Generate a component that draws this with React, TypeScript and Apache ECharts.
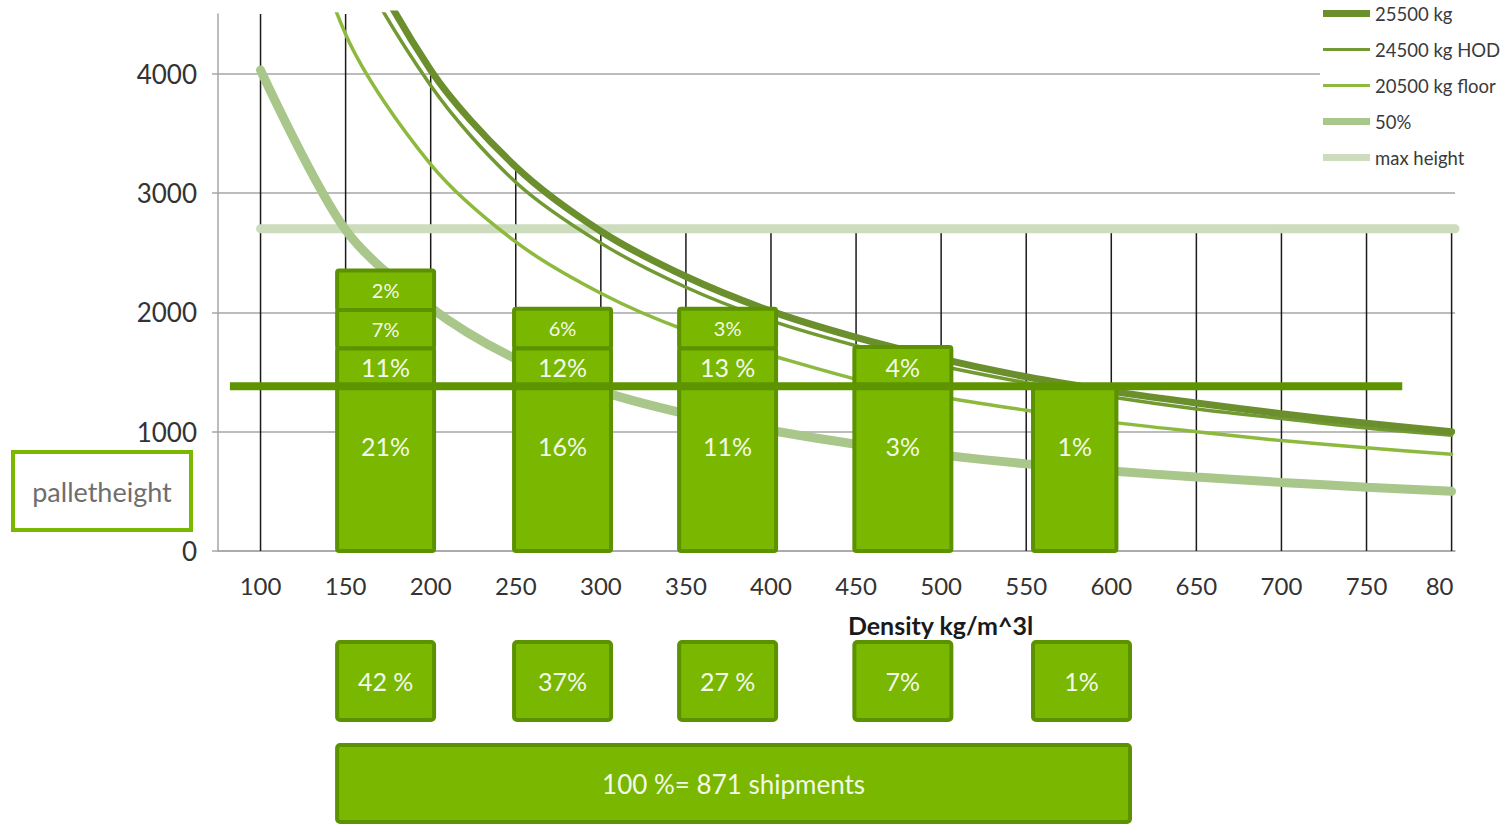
import React, { useEffect, useRef } from "react";
import * as echarts from "echarts";

// ---- data ----
const densityTicks = [100, 150, 200, 250, 300, 350, 400, 450, 500, 550, 600, 650, 700, 750, 800];
const tickLabels = ["100", "150", "200", "250", "300", "350", "400", "450", "500", "550", "600", "650", "700", "750", "80"];
const yTicks = [0, 1000, 2000, 3000, 4000];

const curveX = [100, 150, 200, 250, 300, 350, 400, 450, 500, 550, 600, 650, 700, 750, 800];
const kg25500 = [8050, 5370, 4030, 3220, 2680, 2300, 2010, 1790, 1610, 1460, 1340, 1240, 1150, 1070, 1000];
const kg24500HOD = [7730, 5160, 3900, 3090, 2580, 2210, 1930, 1720, 1550, 1410, 1290, 1190, 1110, 1030, 970];
const kg20500floor = [6470, 4330, 3240, 2590, 2160, 1850, 1640, 1440, 1290, 1180, 1080, 1000, 925, 865, 810];
const half50 = [4030, 2690, 2040, 1610, 1340, 1150, 1010, 895, 805, 730, 670, 620, 575, 535, 500];

const maxHeightX = [100, 802];
const maxHeightValue = 2700;
const palletLineX = [82, 771];
const palletLineValue = 1380;

// vertical guide lines: density and the height where each line ends
const vlineX = densityTicks;
const vlineTop = [4500, 4500, 4030, 3220, 2700, 2700, 2700, 2700, 2700, 2700, 2700, 2700, 2700, 2700, 2700];

// density bins (bar extents on the density axis)
const binLeft = [145, 249, 346, 449, 554];
const binRight = [202, 306, 403, 506, 603];
const lowerRight = [202, 306, 403, 506, 611];
// cumulative tops of the stacked segments (pallet height)
const stackTops = [
  [1380, 1700, 2020, 2350],
  [1380, 1700, 2030],
  [1380, 1700, 2030],
  [1380, 1710],
  [1380],
];
const stackLabels = [
  ["21%", "11%", "7%", "2%"],
  ["16%", "12%", "6%"],
  ["11%", "13 %", "3%"],
  ["3%", "4%"],
  ["1%"],
];
const binShares = ["42 %", "37%", "27 %", "7%", "1%"];
const totalRange = [145, 611];
const totalLabel = "100 %= 871 shipments";

const FONT = "Lato, 'Open Sans', sans-serif";
const BAR_FILL = "#79b700";
const BAR_STROKE = "#5c9100";
const BAR_TEXT = "#f3f9e8";

export default function App() {
  const ref = useRef<HTMLDivElement>(null);

  useEffect(() => {
    if (!ref.current) return;
    const chart = echarts.init(ref.current, undefined, { renderer: "svg" });

    const segItems: any[] = [];
    const segText: string[] = [];
    stackTops.forEach((tops, b) => {
      tops.forEach((top, lvl) => {
        const bottom = lvl === 0 ? 0 : tops[lvl - 1];
        segItems.push([binLeft[b], binRight[b], bottom, top, lvl]);
        segText.push(stackLabels[b][lvl]);
      });
    });

    const curve = (ys: number[]) => curveX.map((x, i) => [x, ys[i]]);

    const lineSeries = (name: string, ys: number[], color: string, width: number) => ({
      name,
      type: "line",
      data: curve(ys),
      symbol: "none",
      smooth: 0.3,
      color,
      itemStyle: { color },
      lineStyle: { color, width, cap: "round" },
      z: 3,
      xAxisIndex: 0,
      yAxisIndex: 0,
    });

    const boxText = (text: string, x: number, y: number, size: number) => ({
      type: "text",
      x,
      y,
      style: {
        text,
        fill: BAR_TEXT,
        fontFamily: FONT,
        fontSize: size,
        align: "center",
        verticalAlign: "middle",
      },
    });

    const option: any = {
      animation: false,
      textStyle: { fontFamily: FONT },
      legend: {
        orient: "vertical",
        left: 1320,
        top: 4,
        padding: [0, 4, 0, 3],
        itemWidth: 47,
        itemHeight: 14,
        itemGap: 17,
        selectedMode: false,
        backgroundColor: "#ffffff",
        textStyle: { fontFamily: FONT, fontSize: 18.5, color: "#3a3a3a" },
        data: [
          { name: "25500 kg", icon: "path://M0,0h48v7h-48z" },
          { name: "24500 kg HOD", icon: "path://M0,0h48v3h-48z" },
          { name: "20500 kg floor", icon: "path://M0,0h48v3h-48z" },
          { name: "50%", icon: "path://M0,0h48v7h-48z" },
          { name: "max height", icon: "path://M0,0h48v7h-48z" },
        ],
      },
      grid: [
        { left: 218, right: 49, top: 14, bottom: 273 },
        { left: 218, right: 49, top: 642, height: 78 },
        { left: 218, right: 49, top: 745, height: 77 },
      ],
      xAxis: [
        {
          type: "value",
          gridIndex: 0,
          min: 75,
          max: 802,
          name: "Density kg/m^3l",
          nameLocation: "middle",
          nameGap: 61,
          nameTextStyle: {
            fontFamily: FONT,
            fontWeight: "bold",
            fontSize: 25,
            color: "#1a1a1a",
            padding: [0, 0, 0, 208],
          },
          axisLine: { show: true, lineStyle: { color: "#a6a6a6", width: 1.5 } },
          axisTick: { show: false },
          splitLine: { show: false },
          axisLabel: {
            customValues: densityTicks,
            margin: 22,
            fontFamily: FONT,
            fontSize: 24,
            color: "#333333",
            formatter: (v: number) => {
              const i = densityTicks.indexOf(v);
              if (i < 0) return "";
              return i === densityTicks.length - 1 ? `{r|${tickLabels[i]}}` : tickLabels[i];
            },
            rich: {
              r: { fontFamily: FONT, fontSize: 24, color: "#333333", padding: [0, 24, 0, 0] },
            },
          },
        },
        { type: "value", gridIndex: 1, min: 75, max: 802, show: false },
        { type: "value", gridIndex: 2, min: 75, max: 802, show: false },
      ],
      yAxis: [
        {
          type: "value",
          gridIndex: 0,
          min: 0,
          max: 4500,
          interval: 1000,
          axisLine: { show: true, lineStyle: { color: "#a6a6a6", width: 1.5 } },
          axisTick: { show: true, inside: false, length: 6, lineStyle: { color: "#a6a6a6", width: 1.5 } },
          splitLine: { show: true, showMaxLine: false, lineStyle: { color: "#a6a6a6", width: 1.5 } },
          axisLabel: {
            showMaxLabel: false,
            margin: 21,
            fontFamily: FONT,
            fontSize: 26,
            color: "#333333",
            formatter: (v: number) => (yTicks.includes(v) ? String(v) : ""),
          },
        },
        { type: "value", gridIndex: 1, min: 0, max: 1, show: false },
        { type: "value", gridIndex: 2, min: 0, max: 1, show: false },
      ],
      graphic: [
        {
          type: "group",
          left: 11,
          top: 450,
          children: [
            {
              type: "rect",
              shape: { x: 0, y: 0, width: 178, height: 78 },
              style: { fill: "#ffffff", stroke: "#7ab800", lineWidth: 4 },
            },
            {
              type: "text",
              x: 89,
              y: 39,
              style: {
                text: "palletheight",
                fill: "#6e6e6e",
                fontFamily: FONT,
                fontSize: 27,
                align: "center",
                verticalAlign: "middle",
              },
            },
          ],
        },
      ],
      series: [
        {
          name: "vlines",
          type: "custom",
          xAxisIndex: 0,
          yAxisIndex: 0,
          z: 1,
          silent: true,
          data: vlineX.map((x, i) => [x, vlineTop[i]]),
          renderItem: (params: any, api: any) => {
            const a = api.coord([api.value(0), 0]);
            const b = api.coord([api.value(0), api.value(1)]);
            return {
              type: "line",
              shape: { x1: a[0], y1: a[1], x2: b[0], y2: b[1] },
              style: { stroke: "#1a1a1a", lineWidth: 1.5 },
            };
          },
        },
        {
          name: "max height",
          type: "line",
          data: maxHeightX.map((x) => [x, maxHeightValue]),
          symbol: "none",
          color: "#cddcbd",
          itemStyle: { color: "#cddcbd" },
          lineStyle: { color: "#cddcbd", width: 9, cap: "round" },
          z: 2,
        },
        lineSeries("50%", half50, "#a9c68b", 9),
        lineSeries("20500 kg floor", kg20500floor, "#8dba3e", 3.5),
        lineSeries("24500 kg HOD", kg24500HOD, "#729a33", 3.5),
        lineSeries("25500 kg", kg25500, "#6c8f2e", 7),
        {
          name: "bars",
          type: "custom",
          xAxisIndex: 0,
          yAxisIndex: 0,
          z: 5,
          silent: true,
          data: segItems,
          renderItem: (params: any, api: any) => {
            const p0 = api.coord([api.value(0), api.value(3)]);
            const p1 = api.coord([api.value(1), api.value(2)]);
            const lvl = api.value(4);
            const cx = (p0[0] + p1[0]) / 2;
            const ty = lvl === 0 ? p0[1] + 60 : (p0[1] + p1[1]) / 2;
            return {
              type: "group",
              children: [
                {
                  type: "rect",
                  shape: { x: p0[0], y: p0[1], width: p1[0] - p0[0], height: p1[1] - p0[1], r: 2 },
                  style: { fill: BAR_FILL, stroke: BAR_STROKE, lineWidth: 4 },
                },
                boxText(segText[params.dataIndex], cx, ty, lvl >= 2 ? 20 : 25),
              ],
            };
          },
        },
        {
          name: "pallet line",
          type: "line",
          data: palletLineX.map((x) => [x, palletLineValue]),
          symbol: "none",
          lineStyle: { color: "#5e9400", width: 8 },
          z: 6,
        },
        {
          name: "shares",
          type: "custom",
          xAxisIndex: 1,
          yAxisIndex: 1,
          silent: true,
          data: binLeft.map((x, i) => [x, lowerRight[i]]),
          renderItem: (params: any, api: any) => {
            const p0 = api.coord([api.value(0), 1]);
            const p1 = api.coord([api.value(1), 0]);
            return {
              type: "group",
              children: [
                {
                  type: "rect",
                  shape: { x: p0[0], y: p0[1], width: p1[0] - p0[0], height: p1[1] - p0[1], r: 3 },
                  style: { fill: BAR_FILL, stroke: BAR_STROKE, lineWidth: 4 },
                },
                boxText(binShares[params.dataIndex], (p0[0] + p1[0]) / 2, (p0[1] + p1[1]) / 2, 25),
              ],
            };
          },
        },
        {
          name: "total",
          type: "custom",
          xAxisIndex: 2,
          yAxisIndex: 2,
          silent: true,
          data: [totalRange],
          renderItem: (params: any, api: any) => {
            const p0 = api.coord([api.value(0), 1]);
            const p1 = api.coord([api.value(1), 0]);
            return {
              type: "group",
              children: [
                {
                  type: "rect",
                  shape: { x: p0[0], y: p0[1], width: p1[0] - p0[0], height: p1[1] - p0[1], r: 3 },
                  style: { fill: BAR_FILL, stroke: BAR_STROKE, lineWidth: 4 },
                },
                boxText(totalLabel, (p0[0] + p1[0]) / 2, (p0[1] + p1[1]) / 2, 26),
              ],
            };
          },
        },
      ],
    };

    chart.setOption(option);
    return () => chart.dispose();
  }, []);

  return (
    <div
      ref={ref}
      style={{ position: "absolute", left: 0, top: 0, width: 1504, height: 824, background: "#ffffff" }}
    />
  );
}
